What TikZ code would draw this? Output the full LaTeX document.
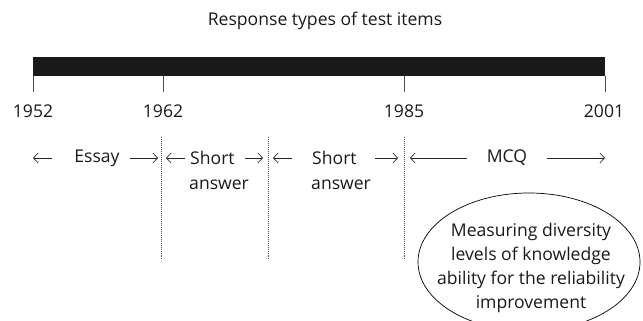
\documentclass[tikz,border=0pt]{standalone}
\usepackage{fontspec}
\setmainfont{Open Sans}
\usetikzlibrary{positioning, arrows.meta, shapes}

\begin{document}
\begin{tikzpicture}[x=0.03cm, y=-0.03cm,
	label/.style={inner sep=0pt, font=\fontsize{15}{18}\selectfont, text=black!90},
	tick/.style={draw=black!70, line width=0.5pt},
	span/.style={-{Straight Barb[length=4pt, width=8.5pt]}, line width=0.55pt, black!85},
	split/.style={dash pattern=on 0.6pt off 1.1pt, line width=0.6pt, black!70}]
			
			\clip (0,0) rectangle (643,321);
			\useasboundingbox (0,0) rectangle (643,321);
			
			%Nodes
			\node (title) at (325, 21) [label] {Response types of test items};
			
			\node (bar) at (319, 66.5) [rectangle, fill=black!90, minimum width=17.16cm, 
			minimum height=0.57cm, inner sep=0pt] {};
			
			\node (y1952) at ( 33, 111) [label] {1952};
			\node (y1962) at (163, 111) [label] {1962};
			\node (y1985) at (404, 111) [label] {1985};
			\node (y2001) at (604, 111) [label] {2001};
			
			\node (essay) at ( 97, 158) [label] {Essay};
			\node (shortA) at (190, 158) [label, anchor=west] {Short};
			\node (answerA) at (189, 185) [label, anchor=west] {answer};
			\node (shortB) at (312, 158) [label, anchor=west] {Short};
			\node (answerB) at (311, 185) [label, anchor=west] {answer};
			\node (mcq) at (507, 158) [label] {MCQ};
			
			\node (goal) at (529, 262) [ellipse, draw, line width=0.6pt, minimum width=6.66cm, 
			minimum height=4.14cm, inner sep=0pt] {};
			\node (goalText) at (531, 268) [label, align=center, 
			font=\fontsize{15}{20.5}\selectfont] {Measuring diversity\\levels of knowledge\\ability 
			for the reliability\\improvement};
			
			\coordinate (t1952) at ( 33, 76);
			\coordinate (t1962) at (163, 76);
			\coordinate (t1985) at (404, 76);
			\coordinate (t2001) at (605, 76);
			
			%Links
			\foreach \t in {t1952, t1962, t1985, t2001}
				\draw [tick] (\t) -- ++(0, 16);
			
			\draw [span] ( 52, 158) -- ( 33, 158);
			\draw [span] (130, 158) -- (158, 158);
			\draw [span] (185, 158) -- (166, 158);
			\draw [span] (245, 158) -- (263, 158);
			\draw [span] (292, 158) -- (273, 158);
			\draw [span] (375, 158) -- (398, 158);
			\draw [span] (mcq.west) ++(-20, 0) -- (410, 158);
			\draw [span] (mcq.east) ++(20, 0) -- (605, 158);
			
			\foreach \x in {161, 268, 404}
				\draw [split] (\x, 137) -- (\x, 259);
			
\end{tikzpicture}
\end{document}
